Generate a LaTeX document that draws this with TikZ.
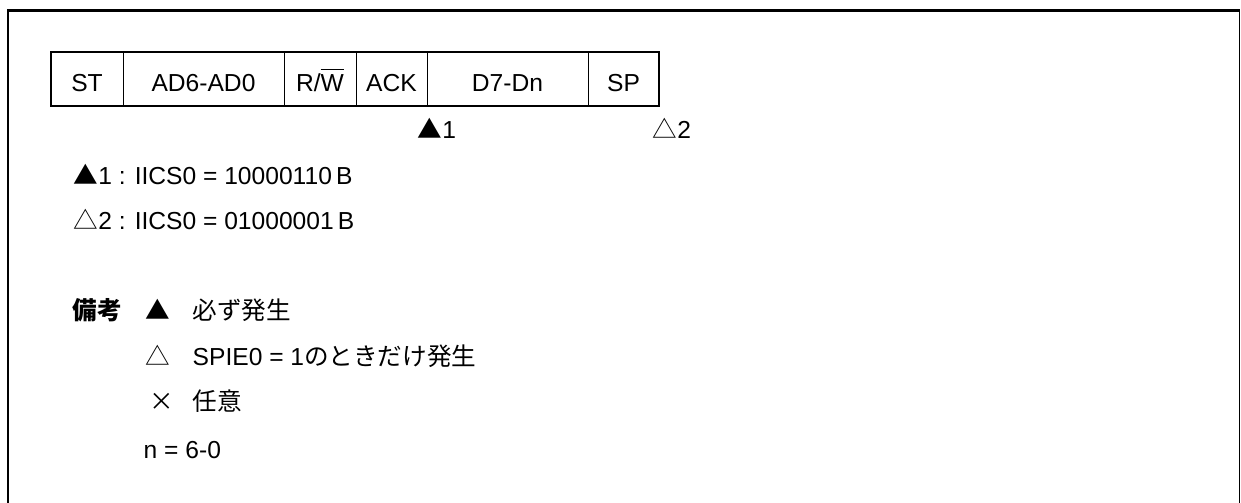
\documentclass[tikz,border=0pt]{standalone}
\usepackage{fontspec}
\setmainfont{Liberation Sans}
\newfontfamily\jp{Noto Sans CJK JP}
\usetikzlibrary{positioning}

\tikzset{
    cell/.style={draw, line width=0.28pt, outer sep=0pt, inner sep=0pt,
        minimum height=0.54cm, text height=0.72em, text depth=0pt},
    txt/.style={anchor=base west, inner sep=0pt}
}

\begin{document}
\begin{tikzpicture}[font=\fontsize{7pt}{8.4pt}\selectfont]
    \useasboundingbox (0,0) rectangle (12.41,-5.03);
    % frame
    \draw[line width=0.85pt] (0.08,-5.03) -- (0.08,-0.105) -- (12.395,-0.105);
    \draw[line width=0.43pt] (12.395,-0.105) -- (12.395,-5.03);

    % register fields
    \node[cell, minimum width=0.72cm, anchor=north west] (st) at (0.51,-0.52) {ST};
    \node[cell, minimum width=1.61cm, right=0pt of st] (addr) {AD6-AD0};
    \node[cell, minimum width=0.72cm, right=0pt of addr] (rw) {R/$\overline{\hbox{W}}$};
    \node[cell, minimum width=0.71cm, right=0pt of rw] (ack) {ACK};
    \node[cell, minimum width=1.61cm, right=0pt of ack] (data) {D7-Dn};
    \node[cell, minimum width=0.71cm, right=0pt of data] (sp) {SP};
    \draw[line width=0.8pt] (st.north west) rectangle (sp.south east);

    \node[txt] (mark1) at ([xshift=-0.1cm,yshift=-0.325cm]data.south west) {{\jp ▲}1};
    \node[txt] (mark2) at ([xshift=-0.07cm,yshift=-0.325cm]sp.south east) {{\jp △}2};

    % conditions
    \node[txt] (cond1) at (0.73,-1.85) {{\jp ▲}1 : IICS0 = 10000110\,B};
    \node[txt] (cond2) at (0.73,-2.30) {{\jp △}2 : IICS0 = 01000001\,B};

    % remarks
    \node[txt] (note) at (0.72,-3.20) {\jp\bfseries 備考};
    \node[txt] (sym1) at (1.45,-3.20) {{\jp ▲}};
    \node[txt] (txt1) at (1.92,-3.20) {\jp 必ず発生};
    \node[txt] (sym2) at (1.45,-3.66) {{\jp △}};
    \node[txt] (txt2) at (1.92,-3.66) {SPIE0 = 1{\jp のときだけ発生}};
    \node[txt] (sym3) at (1.49,-4.11) {\jp ×};
    \node[txt] (txt3) at (1.92,-4.11) {\jp 任意};
    \node[txt] (txt4) at (1.43,-4.59) {n = 6-0};
\end{tikzpicture}
\end{document}
